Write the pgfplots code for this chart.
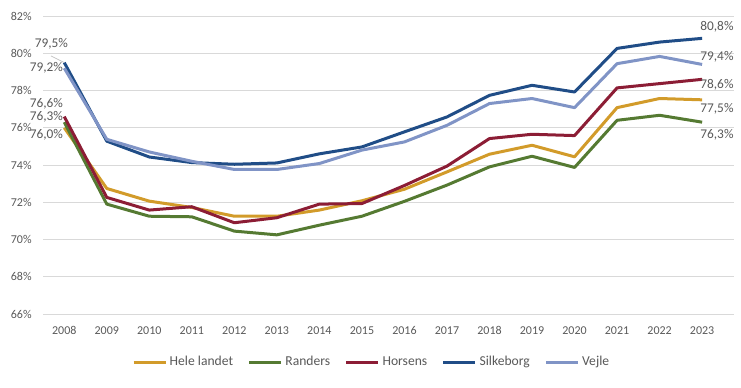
\documentclass[border=0pt]{standalone}
\usepackage{fontspec}
\setmainfont{Carlito}
\usepackage{pgfplots}
\pgfplotsset{compat=1.18}
\definecolor{hele}{HTML}{D29B2A}
\definecolor{randers}{HTML}{557A32}
\definecolor{horsens}{HTML}{8C1D35}
\definecolor{silkeborg}{HTML}{204D87}
\definecolor{vejle}{HTML}{8094C6}
\definecolor{gridgray}{HTML}{D9D9D9}
\definecolor{tickgray}{HTML}{595959}
\begin{document}
\begin{tikzpicture}
\useasboundingbox (-32.25pt,-54.75pt) rectangle (523.5pt,235.5pt);
\begin{axis}[
  at={(0,0)}, anchor=south west, scale only axis,
  width=518.25pt, height=223.5pt,
  xmin=-0.5, xmax=15.75, ymin=66, ymax=82,
  ytick={66,68,...,82},
  xtick={0,...,15},
  xticklabels={2008,2009,2010,2011,2012,2013,2014,2015,2016,2017,2018,2019,2020,2021,2022,2023},
  axis line style={draw=none},
  major tick length=0pt,
  ymajorgrids,
  grid style={draw=gridgray, line width=0.75pt},
  tick label style={font=\fontsize{9}{10}\selectfont, text=tickgray},
  /pgf/number format/assume math mode=true,
  yticklabel={\pgfmathprintnumber{\tick}\%},
  yticklabel style={xshift=-5pt},
  xticklabel style={yshift=-6pt},
  every axis plot/.append style={line width=2.25pt, line join=round},
  legend columns=5,
  legend style={draw=none, at={(axis description cs:0.476,0)}, anchor=center, yshift=-36pt,
    font=\fontsize{10.2}{11}\selectfont, text=tickgray,
    /tikz/every even column/.append style={column sep=9pt}},
  legend image code/.code={\draw[#1] (0pt,0pt) -- (24pt,0pt);},
  clip=false,
]
\addplot[hele] coordinates {(0,76.0)(1,72.74)(2,72.06)(3,71.72)(4,71.25)(5,71.25)(6,71.58)(7,72.08)(8,72.7)(9,73.63)(10,74.58)(11,75.06)(12,74.44)(13,77.08)(14,77.57)(15,77.5)};
\addlegendentry{Hele landet}
\addplot[randers] coordinates {(0,76.3)(1,71.9)(2,71.25)(3,71.22)(4,70.45)(5,70.25)(6,70.77)(7,71.25)(8,72.05)(9,72.92)(10,73.9)(11,74.47)(12,73.87)(13,76.4)(14,76.67)(15,76.3)};
\addlegendentry{Randers}
\addplot[horsens] coordinates {(0,76.6)(1,72.26)(2,71.58)(3,71.76)(4,70.9)(5,71.17)(6,71.9)(7,71.93)(8,72.9)(9,73.94)(10,75.42)(11,75.65)(12,75.58)(13,78.14)(14,78.37)(15,78.6)};
\addlegendentry{Horsens}
\addplot[silkeborg] coordinates {(0,79.5)(1,75.28)(2,74.43)(3,74.13)(4,74.04)(5,74.11)(6,74.6)(7,74.97)(8,75.78)(9,76.58)(10,77.74)(11,78.28)(12,77.92)(13,80.26)(14,80.6)(15,80.8)};
\addlegendentry{Silkeborg}
\addplot[vejle] coordinates {(0,79.2)(1,75.38)(2,74.7)(3,74.2)(4,73.76)(5,73.76)(6,74.08)(7,74.8)(8,75.24)(9,76.13)(10,77.3)(11,77.57)(12,77.08)(13,79.44)(14,79.83)(15,79.4)};
\addlegendentry{Vejle}
\draw[gray!50, line width=0.5pt] (axis cs:0,79.5) -- ++(-10pt,5pt);
\begin{scope}[every node/.style={font=\fontsize{10}{11}\selectfont, text=tickgray, inner sep=0pt}]
\node[anchor=east, xshift=3pt, yshift=14.25pt] at (axis cs:0,79.5) {79,5\%};
\node[anchor=east, xshift=-0.75pt, yshift=0pt] at (axis cs:0,79.2) {79,2\%};
\node[anchor=east, xshift=-0.75pt, yshift=9.75pt] at (axis cs:0,76.6) {76,6\%};
\node[anchor=east, xshift=-0.75pt, yshift=3.75pt] at (axis cs:0,76.3) {76,3\%};
\node[anchor=east, xshift=-0.75pt, yshift=-5.6pt] at (axis cs:0,76.0) {76,0\%};
\node[anchor=west, xshift=-1.5pt, yshift=9pt] at (axis cs:15,80.8) {80,8\%};
\node[anchor=west, xshift=-1.5pt, yshift=6pt] at (axis cs:15,79.4) {79,4\%};
\node[anchor=west, xshift=-1.5pt, yshift=-3.75pt] at (axis cs:15,78.6) {78,6\%};
\node[anchor=west, xshift=-1.5pt, yshift=-6.75pt] at (axis cs:15,77.5) {77,5\%};
\node[anchor=west, xshift=-1.5pt, yshift=-9.75pt] at (axis cs:15,76.3) {76,3\%};
\end{scope}
\end{axis}
\end{tikzpicture}
\end{document}
